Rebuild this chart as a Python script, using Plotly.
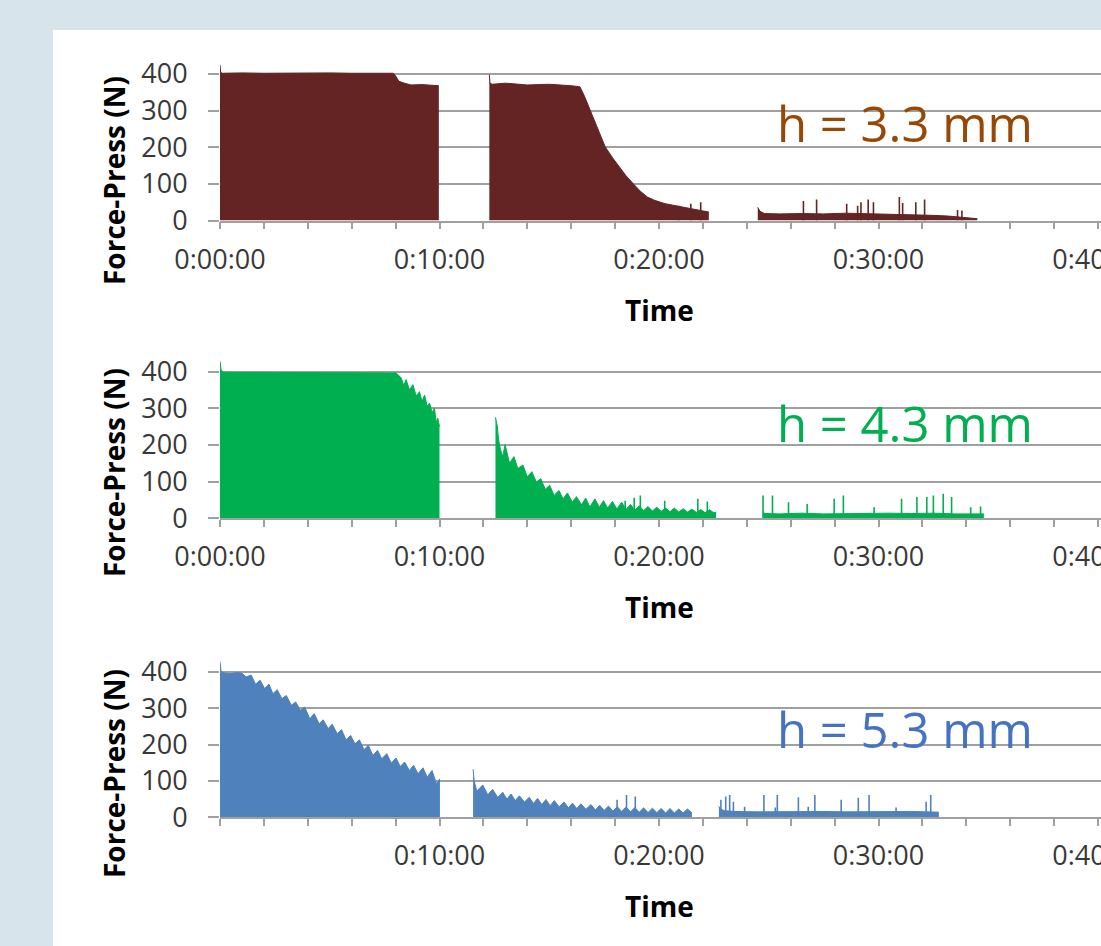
import plotly.graph_objects as go

# ---------------- data (time in minutes, force in N) ----------------
# Panel 1: h = 3.3 mm
p1_seg1_t = [0, 0.03, 0.1, 1, 2, 3, 4, 5, 6, 7, 7.9, 8.0, 8.15, 8.4, 8.7, 9.2, 9.6, 9.97]
p1_seg1_v = [425, 405, 402, 403, 402, 403, 402, 403, 402, 403, 402, 395, 380, 375, 370, 371, 369, 368]
p1_seg2_t = [12.27, 12.3, 12.4, 13, 14, 15, 16, 16.4, 16.6, 16.9, 17.2, 17.55, 17.9, 18.2, 18.5,
             18.83, 19.15, 19.47, 19.8, 20.27, 20.8, 21.39, 21.8, 22.27]
p1_seg2_v = [398, 375, 372, 375, 370, 372, 368, 365, 340, 297, 250, 201, 170, 146, 122,
             100, 80, 64, 55, 46, 40, 32, 27, 23]
p1_seg3_t = [24.5, 24.6, 24.8, 25.5, 26.5, 27.5, 28.5, 29.5, 30.5, 31.0, 31.5, 32.5, 33.2, 33.9, 34.2, 34.5]
p1_seg3_v = [36, 25, 19, 18, 19, 18, 20, 19, 18, 17, 15, 14, 12, 9, 7, 5]
p1_spike_t = [20.9, 21.45, 21.9, 26.58, 27.18, 28.55, 29.05, 29.2, 29.53, 29.77, 30.95, 31.1,
              31.7, 32.1, 33.6, 33.8]
p1_spike_v = [40, 46, 50, 53, 57, 46, 40, 50, 57, 50, 64, 48, 50, 57, 29, 27]

# Panel 2: h = 4.3 mm
p2_seg1_t = [0, 0.05, 0.15, 2, 4, 6, 7.5, 8.03, 8.26, 8.37, 8.48, 8.63, 8.79, 8.94, 9.09, 9.2,
             9.32, 9.44, 9.55, 9.66, 9.77, 9.85, 9.92, 10.0]
p2_seg1_v = [428, 405, 398, 398, 398, 398, 397, 396, 382, 362, 378, 350, 364, 333, 345, 318,
             336, 305, 314, 288, 300, 262, 273, 250]
p2_seg2_t = [12.55, 12.63, 12.69, 12.78, 12.88, 12.99, 13.19, 13.39, 13.57, 13.8, 14.0, 14.21,
             14.41, 14.61, 14.82, 15.02, 15.22, 15.44, 15.63, 15.83, 16.05, 16.24, 16.47, 16.66,
             16.85, 17.08, 17.28, 17.47, 17.66, 17.88, 18.08, 18.3, 18.5, 18.7, 18.9, 19.1, 19.3,
             19.5, 19.7, 19.9, 20.1, 20.3, 20.5, 20.7, 20.9, 21.1, 21.3, 21.5, 21.7, 21.9, 22.1,
             22.3, 22.5, 22.6]
p2_seg2_v = [275, 252, 215, 187, 168, 201, 150, 168, 136, 145, 113, 127, 99, 108, 79, 90, 62,
             76, 53, 69, 44, 59, 37, 55, 31, 53, 30, 48, 28, 46, 25, 44, 24, 38, 22, 34, 21, 32,
             20, 30, 19, 28, 18, 28, 17, 26, 17, 25, 16, 24, 15, 23, 15, 16]
p2_seg3_t = [24.74, 24.8, 25.5, 26.5, 27.5, 28.5, 29.5, 30.5, 31.5, 32.5, 33.5, 34.5, 34.8]
p2_seg3_v = [20, 13, 12, 14, 12, 13, 12, 14, 13, 14, 12, 13, 12]
p2_spike_t = [18.46, 18.87, 19.15, 20.26, 21.77, 22.2, 24.74, 25.17, 25.9, 26.75, 27.98, 28.4,
              29.8, 31.05, 31.75, 32.2, 32.5, 32.95, 33.33, 34.2, 34.65]
p2_spike_v = [48, 56, 62, 48, 53, 46, 62, 62, 44, 39, 53, 62, 30, 53, 58, 58, 62, 67, 58, 30, 32]

# Panel 3: h = 5.3 mm
p3_seg1_t = [0, 0.05, 0.2, 0.5, 0.8, 1.0, 1.19, 1.42, 1.62, 1.83, 2.03, 2.23, 2.41, 2.61, 2.82,
             3.02, 3.25, 3.45, 3.66, 3.86, 4.09, 4.29, 4.52, 4.70, 4.93, 5.11, 5.34, 5.54, 5.74,
             5.95, 6.15, 6.35, 6.56, 6.76, 6.96, 7.18, 7.37, 7.60, 7.80, 8.02, 8.21, 8.41, 8.63,
             8.82, 9.02, 9.25, 9.44, 9.66, 9.86, 10.02]
p3_seg1_v = [428, 400, 397, 395, 398, 396, 386, 391, 366, 377, 354, 366, 340, 351, 326, 335,
             308, 317, 294, 303, 271, 285, 257, 268, 244, 256, 230, 241, 213, 225, 202, 213, 186,
             198, 170, 184, 161, 175, 149, 163, 140, 152, 129, 143, 120, 136, 110, 129, 92, 106]
p3_seg2_t = [11.53, 11.58, 11.7, 11.97, 12.2, 12.42, 12.65, 12.88, 13.07, 13.26, 13.45, 13.64,
             13.87, 14.09, 14.28, 14.47, 14.66, 14.85, 15.04, 15.23, 15.45, 15.68, 15.87, 16.06,
             16.25, 16.44, 16.67, 16.9, 17.1, 17.3, 17.5, 17.7, 17.9, 18.1, 18.3, 18.5, 18.7,
             18.9, 19.1, 19.3, 19.5, 19.7, 19.9, 20.1, 20.3, 20.5, 20.7, 20.9, 21.1, 21.3, 21.5]
p3_seg2_v = [132, 100, 72, 89, 62, 77, 55, 69, 50, 64, 46, 59, 42, 55, 38, 52, 35, 49, 32, 46,
             29, 42, 26, 39, 24, 37, 22, 35, 20, 33, 19, 31, 17, 29, 16, 28, 15, 27, 14, 26, 13,
             25, 13, 24, 12, 24, 12, 23, 12, 23, 12]
p3_seg3_t = [22.73, 22.8, 23.0, 23.5, 24.5, 25.5, 26.5, 27.5, 28.5, 29.5, 30.5, 31.5, 32.2, 32.75]
p3_seg3_v = [30, 22, 18, 16, 15, 16, 15, 16, 15, 16, 15, 16, 15, 14]
p3_spike_t = [18.09, 18.52, 18.92, 22.82, 23.04, 23.22, 23.39, 23.9, 24.78, 25.3, 25.39, 26.35,
              26.8, 27.1, 28.3, 29.08, 29.57, 30.8, 32.17, 32.38]
p3_spike_v = [48, 61, 57, 48, 57, 61, 43, 29, 61, 27, 61, 55, 29, 61, 48, 54, 61, 27, 43, 61]

panel_labels = ["h = 3.3 mm", "h = 4.3 mm", "h = 5.3 mm"]
y_tick_vals = [0, 100, 200, 300, 400]
x_tick_vals = list(range(0, 41, 2))
x_major_labels = {0: "0:00:00", 10: "0:10:00", 20: "0:20:00", 30: "0:30:00", 40: "0:40:00"}

# ---------------- styling ----------------
W, H = 1101, 946
fill_colors = ["#632423", "#00B050", "#4F81BD"]
label_colors = ["#974806", "#00B050", "#4472C4"]
grid_color = "#a0a0a0"
tick_font = dict(family="Open Sans", size=27, color="#383838")
title_font = dict(family="Open Sans", size=28, color="#000000")

X0_PX = 220.0            # pixel of t = 0
PX_PER_MIN = 21.95
# (pixel of y=0, pixel of y=400) for each panel
y_px = [(220.5, 74.0), (518.3, 371.5), (817.3, 671.8)]
Y_TOP = 430.0

def px_x(px):
    return px / W

def px_y(py):
    return 1 - py / H

panels = [
    ([(p1_seg1_t, p1_seg1_v), (p1_seg2_t, p1_seg2_v), (p1_seg3_t, p1_seg3_v)], (p1_spike_t, p1_spike_v)),
    ([(p2_seg1_t, p2_seg1_v), (p2_seg2_t, p2_seg2_v), (p2_seg3_t, p2_seg3_v)], (p2_spike_t, p2_spike_v)),
    ([(p3_seg1_t, p3_seg1_v), (p3_seg2_t, p3_seg2_v), (p3_seg3_t, p3_seg3_v)], (p3_spike_t, p3_spike_v)),
]

fig = go.Figure()
layout = {}
annotations = []
x_range = [0, (W - X0_PX) / PX_PER_MIN]

for i, (segments, spikes) in enumerate(panels):
    k = "" if i == 0 else str(i + 1)
    xa, ya = "x" + k, "y" + k
    color = fill_colors[i]
    for t, v in segments:
        fig.add_trace(go.Scatter(x=t, y=v, xaxis=xa, yaxis=ya, mode="lines",
                                 fill="tozeroy", fillcolor=color,
                                 line=dict(color=color, width=1), hoverinfo="skip",
                                 showlegend=False))
    st, sv = spikes
    sx, sy = [], []
    for t, v in zip(st, sv):
        sx += [t, t, None]
        sy += [0, v, None]
    fig.add_trace(go.Scatter(x=sx, y=sy, xaxis=xa, yaxis=ya, mode="lines",
                             line=dict(color=color, width=1.6), hoverinfo="skip",
                             showlegend=False))

    y0p, y4p = y_px[i]
    top_px = y0p - (y0p - y4p) * Y_TOP / 400.0
    ticktext = [x_major_labels.get(v, "") for v in x_tick_vals]
    if i == 2:
        ticktext[0] = ""
    layout["xaxis" + k] = dict(
        domain=[px_x(X0_PX), 1], range=x_range, anchor=ya,
        tickmode="array", tickvals=x_tick_vals, ticktext=ticktext,
        ticks="outside", ticklen=7, tickwidth=1.5, tickcolor=grid_color,
        showline=True, linecolor=grid_color, linewidth=1.5,
        showgrid=False, zeroline=False, tickfont=tick_font,
        ticklabelstandoff=7, ticklabeloverflow="allow",
        automargin=False, fixedrange=True,
    )
    layout["yaxis" + k] = dict(
        domain=[px_y(y0p), px_y(top_px)], range=[0, Y_TOP], anchor=xa,
        tickmode="array", tickvals=y_tick_vals,
        ticks="outside", ticklen=11, tickwidth=1.5, tickcolor=grid_color,
        showgrid=True, gridcolor=grid_color, gridwidth=1.5,
        showline=False, zeroline=False, tickfont=tick_font,
        ticklabelstandoff=15, automargin=False, fixedrange=True,
    )
    # axis titles
    annotations.append(dict(text="<b>Time</b>", xref="paper", yref="paper",
                            x=px_x(659), y=px_y(y0p + 89), xanchor="center", yanchor="middle",
                            showarrow=False, font=title_font))
    annotations.append(dict(text="<b>Force-Press (N)</b>", xref="paper", yref="paper",
                            x=px_x(114), y=px_y([181, 473, 774][i]), xanchor="center",
                            yanchor="middle", textangle=-90, showarrow=False, font=title_font))
    annotations.append(dict(text=panel_labels[i], xref="paper", yref="paper",
                            x=px_x(905), y=px_y([123, 423, 729][i]), xanchor="center",
                            yanchor="middle", showarrow=False,
                            font=dict(family="Open Sans", size=49, color=label_colors[i])))

fig.update_layout(
    width=W, height=H, margin=dict(l=0, r=0, t=0, b=0),
    paper_bgcolor="#d8e4eb", plot_bgcolor="white",
    shapes=[dict(type="rect", xref="paper", yref="paper", x0=53 / W, x1=1, y0=0,
                 y1=1 - 30 / H, fillcolor="white", line=dict(width=0), layer="below")],
    annotations=annotations, showlegend=False,
    **layout,
)

fig.write_html("out.html", config={"displayModeBar": False},
               post_script="document.body.style.margin='0';document.body.style.overflow='hidden';")
